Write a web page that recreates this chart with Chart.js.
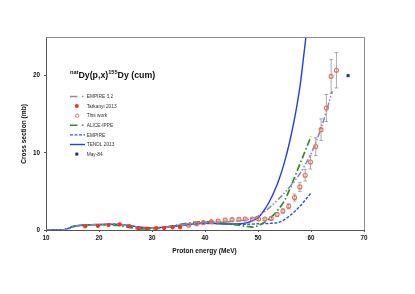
<!DOCTYPE html>
<html><head><meta charset="utf-8">
<script src="https://cdn.jsdelivr.net/npm/chart.js@4.4.1/dist/chart.umd.min.js"></script>
<style>html,body{margin:0;padding:0;background:#fff}canvas{display:block}</style>
</head><body>
<canvas id="c" width="415" height="294"></canvas>
<script>
// ---- data ----
const xTicks = [10,20,30,40,50,60,70];
const yTicks = [0,10,20];

const tarkE = [17.4,19.8,21.8,23.9,25.7,27.5,29.1,30.8,32.3,33.9,35.3];
const tarkV = [0.48,0.52,0.65,0.74,0.52,0.22,0.18,0.26,0.26,0.35,0.35];

const workE = [36.9,38.4,39.7,41.2,42.5,43.8,45.1,46.4,47.6,48.9,50.1,51.3,52.5,53.6,54.7,55.8,56.9,57.9,58.9,59.9,60.9,61.9,62.9,63.8,64.8];
const workV = [0.61,0.82,0.95,1.08,1.17,1.3,1.34,1.39,1.43,1.43,1.43,1.43,1.5,2.0,2.47,3.07,4.2,5.58,7.1,8.8,10.8,13.0,15.8,19.9,20.7];
const workErr = [0.1,0.1,0.12,0.13,0.14,0.15,0.15,0.16,0.16,0.16,0.16,0.16,0.17,0.22,0.27,0.33,0.45,0.6,0.75,0.9,1.15,1.4,1.75,2.2,2.3];

const mayE = [67.0];
const mayV = [20.0];

const emp32E = [10,13,14,15,16,18,20,22,24,26,28,30,32,34,36,38,40,42,44,46,48,50,52,54,56,58,60,61,62,63,64];
const emp32V = [0,0,0.1,0.4,0.55,0.65,0.7,0.72,0.7,0.5,0.3,0.25,0.3,0.5,0.7,0.9,1.0,1.0,1.05,1.15,1.35,1.8,2.8,4.1,5.6,7.4,9.9,11.5,13.4,15.6,18.0];

const aliceE = [10,13,14,15,16,18,20,22,24,26,28,30,32,34,36,38,40,42,44,46,48,49,50,51,52,53,54,55,56,57,58,59,60];
const aliceV = [0,0,0.1,0.4,0.55,0.65,0.68,0.65,0.55,0.3,0.15,0.15,0.3,0.55,0.8,1.0,1.1,1.0,0.85,0.65,0.45,0.38,0.55,0.9,1.4,2.0,2.8,3.8,5.3,7.0,8.7,10.4,12.1];

const empE = [10,13,14,15,16,18,20,22,24,26,28,30,32,34,36,38,40,42,44,46,48,50,52,54,55,56,57,58,59,60];
const empV = [0,0,0.1,0.4,0.55,0.6,0.7,0.75,0.72,0.5,0.3,0.25,0.3,0.45,0.6,0.75,0.85,0.85,0.8,0.75,0.75,0.8,0.85,1.0,1.35,1.85,2.45,3.15,3.95,4.8];

const tendlE = [10,12,13,14,15,16,18,20,22,24,26,28,30,32,34,36,38,40,42,44,46,48,49,50,51,52,53,54,55,56,57,58,58.7,59.3];
const tendlV = [0,0,0.02,0.15,0.45,0.6,0.68,0.72,0.75,0.72,0.55,0.35,0.28,0.35,0.5,0.65,0.8,0.9,0.85,0.78,0.78,0.95,1.2,1.6,2.4,3.5,4.9,6.6,8.8,11.5,14.8,19.0,23.0,26.5];

const pts = (xs, ys) => xs.map((x,i)=>({x:x, y:ys[i]}));

const C = {
  emp32:'#8a8ab8', tark:'#ff3010', work:'#e0705a', alice:'#2e8b2e',
  emp:'#3050f0', tendl:'#2040e0', may:'#17366b'
};

const legendItems = [
  {label:'EMPIRE 3.2', type:'line2', color:C.emp32, w:1.6},
  {label:'Tarkanyi 2013', type:'dot', color:C.tark},
  {label:'This work', type:'ring', color:C.work},
  {label:'ALICE-IPPE', type:'line2', color:C.alice, w:1.6},
  {label:'EMPIRE', type:'line', color:C.emp, dash:[3,1.5], w:1.4},
  {label:'TENDL 2013', type:'line', color:C.tendl, dash:[], w:1.4},
  {label:'May-84', type:'square', color:C.may}
];

const FONT = '"Liberation Sans", Arial, sans-serif';

const decor = {
  id:'decor',
  beforeDatasetsDraw(chart){
    const ctx = chart.ctx, xs = chart.scales.x, ys = chart.scales.y;
    ctx.save();
    ctx.strokeStyle = '#a0a0a0'; ctx.lineWidth = 0.9;
    workE.forEach((e,i)=>{
      const px = xs.getPixelForValue(e);
      const p1 = ys.getPixelForValue(workV[i]+workErr[i]);
      const p2 = ys.getPixelForValue(workV[i]-workErr[i]);
      ctx.beginPath();
      ctx.moveTo(px,p1); ctx.lineTo(px,p2);
      ctx.moveTo(px-1.8,p1); ctx.lineTo(px+1.8,p1);
      ctx.moveTo(px-1.8,p2); ctx.lineTo(px+1.8,p2);
      ctx.stroke();
    });
    ctx.restore();
  },
  afterDraw(chart){
    const ctx = chart.ctx, a = chart.chartArea;
    ctx.save();
    // frame top/right
    ctx.strokeStyle = '#8c8c8c'; ctx.lineWidth = 1;
    ctx.beginPath();
    ctx.moveTo(a.left, a.top+0.5); ctx.lineTo(a.right+0.5, a.top+0.5); ctx.lineTo(a.right+0.5, a.bottom);
    ctx.stroke();
    // title
    let x = a.left + 24, y = a.top + 40.8;
    const parts = [['nat',true],['Dy(p,x)',false],['155',true],['Dy (cum)',false]];
    ctx.fillStyle = '#111'; ctx.textBaseline = 'alphabetic';
    parts.forEach(([t,sup])=>{
      ctx.font = 'bold ' + (sup? '5.6px ':'8.8px ') + FONT;
      ctx.fillText(t, x, sup ? y-3.6 : y);
      x += ctx.measureText(t).width;
    });
    // legend
    const lx = a.left + 24, ly0 = a.top + 59.5, dy = 9.6;
    legendItems.forEach((it,i)=>{
      const yy = ly0 + i*dy;
      ctx.setLineDash([]);
      if (it.type==='line'){
        ctx.strokeStyle = it.color; ctx.lineWidth = it.w; ctx.setLineDash(it.dash);
        ctx.beginPath(); ctx.moveTo(lx, yy); ctx.lineTo(lx+15, yy); ctx.stroke();
        ctx.setLineDash([]);
      } else if (it.type==='line2'){
        ctx.strokeStyle = it.color; ctx.lineWidth = it.w;
        ctx.beginPath(); ctx.moveTo(lx, yy); ctx.lineTo(lx+7.5, yy); ctx.moveTo(lx+11.8, yy); ctx.lineTo(lx+13.3, yy); ctx.stroke();
      } else if (it.type==='dot'){
        ctx.fillStyle = it.color; ctx.beginPath(); ctx.arc(lx+6.8, yy, 2, 0, Math.PI*2); ctx.fill();
      } else if (it.type==='ring'){
        ctx.strokeStyle = it.color; ctx.lineWidth = 0.9; ctx.beginPath(); ctx.arc(lx+7.2, yy, 1.7, 0, Math.PI*2); ctx.stroke();
      } else {
        ctx.fillStyle = it.color; ctx.fillRect(lx+5.3, yy-1.5, 3, 3);
      }
      ctx.fillStyle = '#333'; ctx.font = '4.8px ' + FONT; ctx.textBaseline = 'middle';
      ctx.fillText(it.label, lx+16.7, yy+0.3);
    });
    // axis titles
    ctx.fillStyle = '#111'; ctx.font = 'bold 6.6px ' + FONT; ctx.textAlign = 'center'; ctx.textBaseline = 'middle';
    ctx.fillText('Proton energy (MeV)', (a.left+a.right)/2 - 0.5, a.bottom + 21.5);
    ctx.translate(24.5, (a.top+a.bottom)/2 + 0.5); ctx.rotate(-Math.PI/2);
    ctx.fillText('Cross section (mb)', 0, 0);
    ctx.restore();
  }
};

const lineDs = (label, xs, ys, color, dash, w) => ({
  label, data: pts(xs, ys), type:'line', showLine:true, borderColor:color, backgroundColor:color,
  borderWidth:w, borderDash:dash, pointRadius:0, cubicInterpolationMode:'monotone', fill:false
});

new Chart(document.getElementById('c'), {
  type:'scatter',
  data:{ datasets:[
    {label:'May-84', data:pts(mayE,mayV), pointStyle:'rect', pointRadius:1.8, backgroundColor:C.may, borderColor:C.may, borderWidth:0.5},
    {label:'Tarkanyi 2013', data:pts(tarkE,tarkV), pointRadius:2.1, backgroundColor:C.tark, borderColor:C.tark, borderWidth:0},
    {label:'This work', data:pts(workE,workV), pointRadius:2.0, backgroundColor:'rgba(0,0,0,0)', borderColor:C.work, borderWidth:1.1},
    lineDs('EMPIRE 3.2', emp32E, emp32V, C.emp32, [6,2,1.5,2,1.5,2], 1.6),
    lineDs('ALICE-IPPE', aliceE, aliceV, C.alice, [7,2.5,1.5,2.5], 1.7),
    lineDs('EMPIRE', empE, empV, C.emp, [3,1.5], 1.4),
    lineDs('TENDL 2013', tendlE, tendlV, C.tendl, [], 1.4)
  ]},
  options:{
    responsive:false, animation:false, devicePixelRatio:1,
    layout:{padding:{left:0, top:37, right:51, bottom:0}},
    plugins:{legend:{display:false}, tooltip:{enabled:false}},
    scales:{
      x:{ type:'linear', min:10, max:70,
        afterFit(s){ s.height = 64; },
        afterBuildTicks(s){ s.ticks = xTicks.map(v=>({value:v})); },
        grid:{display:true, drawOnChartArea:false, drawTicks:true, tickLength:2, color:'#555'},
        border:{display:true, color:'#555', width:1},
        ticks:{padding:2, color:'#111', font:{family:FONT, size:6.3, weight:'bold'}, maxRotation:0}
      },
      y:{ type:'linear', min:0, max:25,
        afterFit(s){ s.width = 46; },
        afterBuildTicks(s){ s.ticks = yTicks.map(v=>({value:v})); },
        grid:{display:true, drawOnChartArea:false, drawTicks:true, tickLength:2, color:'#555'},
        border:{display:true, color:'#555', width:1},
        ticks:{padding:4, color:'#111', font:{family:FONT, size:6.3, weight:'bold'}}
      }
    }
  },
  plugins:[decor]
});
</script>
</body></html>
